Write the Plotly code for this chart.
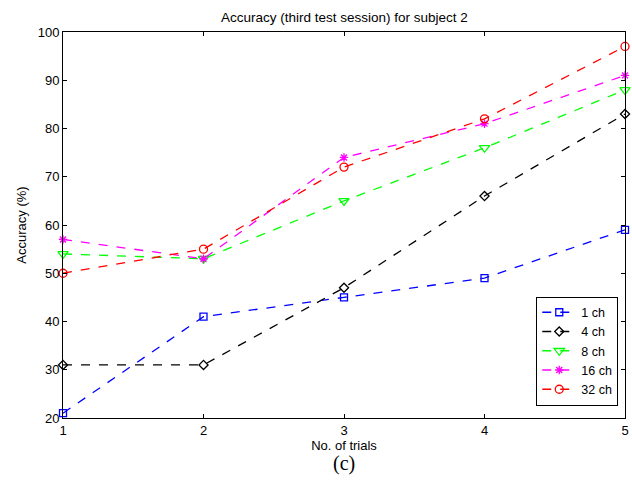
import plotly.graph_objects as go

trials = [1, 2, 3, 4, 5]
acc_1ch = [21, 41, 45, 49, 59]
acc_4ch = [31, 31, 47, 66, 83]
acc_8ch = [54, 53, 65, 76, 88]
acc_16ch = [57, 53, 74, 81, 91]
acc_32ch = [50, 55, 72, 82, 97]

series = [
    ("1 ch", acc_1ch, "#0000ff", "square-open", 7),
    ("4 ch", acc_4ch, "#000000", "diamond-open", 7),
    ("8 ch", acc_8ch, "#00ff00", "triangle-down-open", 9),
    ("16 ch", acc_16ch, "#ff00ff", "asterisk-open", 7),
    ("32 ch", acc_32ch, "#ff0000", "circle-open", 8),
]

FONT = "Liberation Sans, Arial"

fig = go.Figure()
for name, vals, color, symbol, size in series:
    fig.add_trace(go.Scatter(
        x=trials, y=vals, name=name, mode="lines+markers",
        line=dict(color=color, width=1.3, dash="dash"),
        marker=dict(symbol=symbol, size=size, color=color,
                    line=dict(color=color, width=1.3)),
        cliponaxis=False,
    ))

axis_common = dict(
    showgrid=False, zeroline=False, showline=True, linecolor="black",
    linewidth=1, mirror="ticks", ticks="inside", ticklen=4,
    tickcolor="black", ticklabeloverflow="allow",
    tickfont=dict(family=FONT, size=13, color="black"),
)

fig.update_layout(
    width=632, height=484,
    margin=dict(l=63, r=3, t=32, b=66),
    paper_bgcolor="white", plot_bgcolor="white",
    title=dict(text="Accuracy (third test session) for subject 2",
               x=0.545, xanchor="center", y=0.965, yanchor="middle",
               font=dict(family=FONT, size=13.5, color="black")),
    xaxis=dict(range=[1, 5], tickvals=trials, ticktext=["1", "2", "3", "4", "5"],
               title=dict(text="No. of trials", standoff=1,
                          font=dict(family=FONT, size=13, color="black")),
               **axis_common),
    yaxis=dict(range=[20, 100], dtick=10,
               title=dict(text="Accuracy (%)", standoff=8,
                          font=dict(family=FONT, size=13, color="black")),
               **axis_common),
    legend=dict(x=0.988, y=0.032, xanchor="right", yanchor="bottom",
                bgcolor="white", bordercolor="black", borderwidth=1,
                font=dict(family=FONT, size=12.5, color="black"),
                tracegroupgap=0, itemwidth=34),
    showlegend=True,
)

fig.add_annotation(text="(c)", xref="paper", yref="paper", x=0.5, y=-0.118,
                   xanchor="center", yanchor="middle", showarrow=False,
                   font=dict(family="Liberation Serif, Times New Roman", size=20, color="black"))

fig.write_html("out.html")
